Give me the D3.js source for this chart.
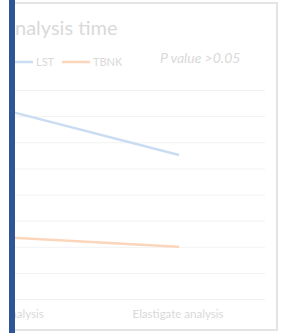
<!DOCTYPE html>
<html lang="en">
	<head>
		<meta charset="utf-8">
		<title>Analysis time</title>
		<script type="text/javascript" src="https://cdn.jsdelivr.net/npm/d3@7"></script>
		<style type="text/css">
			body { margin: 0; background: #fff; }
			text { font-family: Lato, "Open Sans", sans-serif; }
		</style>
	</head>
	<body>
		<script type="text/javascript">

			//Width and height
			var w = 282;
			var h = 333;

			var categories = ["Manual analysis", "Elastigate analysis"];
			var seriesNames = ["LST", "TBNK"];
			var lstValues = [36.2, 27.6];
			var tbnkValues = [11.8, 10.0];
			var yTicks = [0, 5, 10, 15, 20, 25, 30, 35, 40];
			var colors = ["#cadcf2", "#fbd6bb"];

			var series = [lstValues, tbnkValues];

			var xScale = d3.scaleBand()
			.domain(categories)
			.range([-83, 265]);

			var yScale = d3.scaleLinear()
			.domain([0, 40])
			.range([299, 90]);

			//Create SVG element
			var svg = d3.select("body")
						.append("svg")
						.attr("width", w)
						.attr("height", h);

			//frame
			svg.append("rect")
			.attr("x", -10)
			.attr("y", 3)
			.attr("width", 287)
			.attr("height", 327)
			.attr("fill", "#fff")
			.attr("stroke", "#e4e4e4")
			.attr("stroke-width", 2);

			//gridlines
			svg.append("g")
			.attr("transform", "translate(265,0)")
			.call(d3.axisLeft(yScale).tickValues(yTicks).tickSize(265).tickFormat(""))
			.call(function(g){
				g.select(".domain").remove();
				g.selectAll("line").attr("stroke", "#f2f2f2").attr("stroke-width", 1);
			});

			//category labels
			svg.append("g")
			.attr("transform", "translate(0,299)")
			.call(d3.axisBottom(xScale).tickSize(0).tickPadding(11))
			.call(function(g){
				g.select(".domain").remove();
				g.selectAll("text").attr("fill", "#d9d9d9").attr("font-size", 11.5);
			});

			//lines
			var line = d3.line()
			.x(function(d, i){ return xScale(categories[i]) + xScale.bandwidth() / 2; })
			.y(function(d){ return yScale(d); });

			svg.selectAll("path.series")
			.data(series)
			.enter()
			.append("path")
			.attr("class", "series")
			.attr("d", line)
			.attr("fill", "none")
			.attr("stroke", function(d, i){ return colors[i]; })
			.attr("stroke-width", 2.5)
			.attr("stroke-linecap", "round");

			//title, first letter sits behind the side bar
			var title = svg.append("text")
			.attr("y", 35)
			.attr("fill", "#d9d9d9")
			.attr("font-size", 20)
			.text("Analysis time");
			var aWidth = title.node().getSubStringLength(0, 1);
			title.attr("x", 15 - aWidth);

			//legend
			var legendX = [15, 62];
			var legend = svg.selectAll("g.legend")
			.data(seriesNames)
			.enter()
			.append("g")
			.attr("class", "legend")
			.attr("transform", function(d, i){ return "translate(" + legendX[i] + ",62)"; });

			legend.append("line")
			.attr("x1", 0)
			.attr("x2", function(d, i){ return i == 0 ? 18 : 28; })
			.attr("stroke", function(d, i){ return colors[i]; })
			.attr("stroke-width", 2.5);

			legend.append("text")
			.attr("x", function(d, i){ return i == 0 ? 21 : 31; })
			.attr("y", 4)
			.attr("fill", "#d9d9d9")
			.attr("font-size", 11)
			.text(function(d){ return d; });

			svg.append("text")
			.attr("x", 160)
			.attr("y", 63)
			.attr("fill", "#d9d9d9")
			.attr("font-size", 14)
			.attr("font-style", "italic")
			.text("P value >0.05");

			//blank strip left of the side bar
			svg.append("rect")
			.attr("x", 0)
			.attr("y", 0)
			.attr("width", 9)
			.attr("height", h)
			.attr("fill", "#fff");

			//side bar
			svg.append("rect")
			.attr("x", 9)
			.attr("y", 0)
			.attr("width", 6)
			.attr("height", h)
			.attr("fill", "#2e5597");

		</script>
	</body>
</html>
